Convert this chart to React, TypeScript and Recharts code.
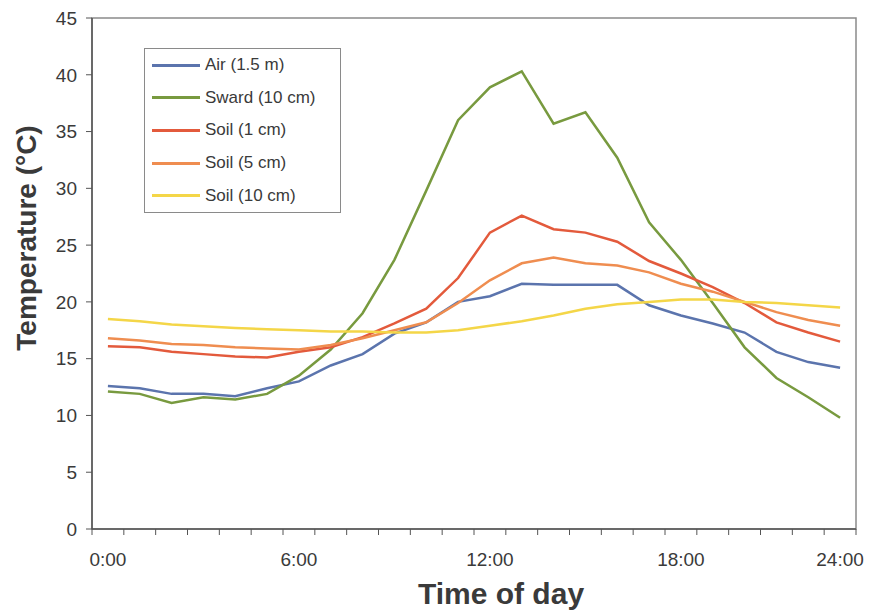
import { Label, Legend, Line, LineChart, ReferenceArea, XAxis, YAxis } from "recharts";

// hourly readings, index 0 = 0:00
const hourIndex = [0, 1, 2, 3, 4, 5, 6, 7, 8, 9, 10, 11, 12, 13, 14, 15, 16, 17, 18, 19, 20, 21, 22, 23];
const air = [12.6, 12.4, 11.9, 11.9, 11.7, 12.4, 13.0, 14.4, 15.4, 17.2, 18.2, 20.0, 20.5, 21.6, 21.5, 21.5, 21.5, 19.7, 18.8, 18.1, 17.3, 15.6, 14.7, 14.2];
const sward = [12.1, 11.9, 11.1, 11.6, 11.4, 11.9, 13.5, 15.8, 19.0, 23.7, 29.8, 36.0, 38.9, 40.3, 35.7, 36.7, 32.7, 27.0, 23.7, 19.9, 16.0, 13.3, 11.6, 9.8];
const soil1 = [16.1, 16.0, 15.6, 15.4, 15.2, 15.1, 15.6, 16.0, 16.9, 18.1, 19.4, 22.1, 26.1, 27.6, 26.4, 26.1, 25.3, 23.6, 22.5, 21.3, 19.9, 18.2, 17.3, 16.5];
const soil5 = [16.8, 16.6, 16.3, 16.2, 16.0, 15.9, 15.8, 16.2, 16.8, 17.5, 18.2, 19.9, 21.9, 23.4, 23.9, 23.4, 23.2, 22.6, 21.6, 20.9, 20.0, 19.1, 18.4, 17.9];
const soil10 = [18.5, 18.3, 18.0, 17.85, 17.7, 17.6, 17.5, 17.4, 17.4, 17.3, 17.3, 17.5, 17.9, 18.3, 18.8, 19.4, 19.8, 20.0, 20.2, 20.2, 20.0, 19.9, 19.7, 19.5];

const tickHours = [0, 6, 12, 18, 23];
const tickLabels = ["0:00", "6:00", "12:00", "18:00", "24:00"];
const yTicks = [0, 5, 10, 15, 20, 25, 30, 35, 40, 45];

const SERIES = [
  { key: "air", name: "Air (1.5 m)", color: "#5b74ad" },
  { key: "sward", name: "Sward (10 cm)", color: "#789a3f" },
  { key: "soil1", name: "Soil (1 cm)", color: "#e35a3c" },
  { key: "soil5", name: "Soil (5 cm)", color: "#ef8d50" },
  { key: "soil10", name: "Soil (10 cm)", color: "#f4d648" },
];

const data = hourIndex.map((h, i) => ({
  h,
  air: air[i],
  sward: sward[i],
  soil1: soil1[i],
  soil5: soil5[i],
  soil10: soil10[i],
}));

// tick marks sit between the hourly categories
const boundaries = [...hourIndex.map((h) => h - 0.5), hourIndex[hourIndex.length - 1] + 0.5];

const FONT = "'Liberation Sans', Arial, sans-serif";
const TEXT = "#3a3a3a";
const AXIS = "#555";

function LegendBox() {
  return (
    <div style={{ border: "1px solid #8a8a8a", background: "#fff", fontFamily: FONT, boxSizing: "border-box", width: 197, height: 165 }}>
      {SERIES.map((s) => (
        <div key={s.key} style={{ display: "flex", alignItems: "center", height: 32.6 }}>
          <span style={{ display: "inline-block", marginLeft: 7, width: 48, height: 3, background: s.color }} />
          <span style={{ marginLeft: 5, fontSize: 17, color: TEXT }}>{s.name}</span>
        </div>
      ))}
    </div>
  );
}

export default function App() {
  return (
    <div style={{ position: "absolute", left: 0, top: 0, background: "#fff" }}>
      <LineChart
        width={878}
        height={616}
        data={data}
        margin={{ top: 18, right: 22, bottom: 0, left: 0 }}
        style={{ fontFamily: FONT }}
      >
        <XAxis
          xAxisId="a"
          type="number"
          dataKey="h"
          domain={[-0.5, 23.5]}
          ticks={boundaries}
          tick={() => <g />}
          interval={0}
          tickSize={6}
          height={8}
          axisLine={{ stroke: AXIS, strokeWidth: 1.5 }}
          tickLine={{ stroke: AXIS }}
        />
        <XAxis
          xAxisId="b"
          type="number"
          dataKey="h"
          domain={[-0.5, 23.5]}
          ticks={tickHours}
          interval={0}
          tickFormatter={(v: number) => tickLabels[tickHours.indexOf(v)]}
          tick={{ fontSize: 19, fill: TEXT }}
          tickSize={0}
          tickMargin={16}
          axisLine={false}
          tickLine={false}
          height={79}
        >
          <Label
            content={() => (
              <text x={501} y={604} textAnchor="middle" fontSize={30} fontWeight="bold" fill={TEXT} fontFamily={FONT}>
                Time of day
              </text>
            )}
          />
        </XAxis>
        <YAxis
          type="number"
          domain={[0, 45]}
          ticks={yTicks}
          width={92}
          tickSize={6}
          tickMargin={9}
          tick={{ fontSize: 19, fill: TEXT }}
          axisLine={{ stroke: AXIS, strokeWidth: 1.5 }}
          tickLine={{ stroke: AXIS }}
        >
          <Label
            content={() => (
              <text
                x={36}
                y={238}
                transform="rotate(-90, 36, 238)"
                textAnchor="middle"
                fontSize={28}
                fontWeight="bold"
                fill={TEXT}
                fontFamily={FONT}
              >
                Temperature (°C)
              </text>
            )}
          />
        </YAxis>
        <ReferenceArea xAxisId="a" x1={-0.5} x2={23.5} y1={0} y2={45} fill="none" stroke="#8a8a8a" strokeWidth={1.5} />
        {SERIES.map((s) => (
          <Line
            key={s.key}
            xAxisId="a"
            type="linear"
            dataKey={s.key}
            name={s.name}
            stroke={s.color}
            strokeWidth={2.5}
            dot={false}
            activeDot={false}
            isAnimationActive={false}
          />
        ))}
        <Legend
          layout="vertical"
          align="center"
          verticalAlign="middle"
          content={() => <LegendBox />}
          wrapperStyle={{ left: 144, top: 48, width: 197, height: 165 }}
        />
      </LineChart>
    </div>
  );
}
